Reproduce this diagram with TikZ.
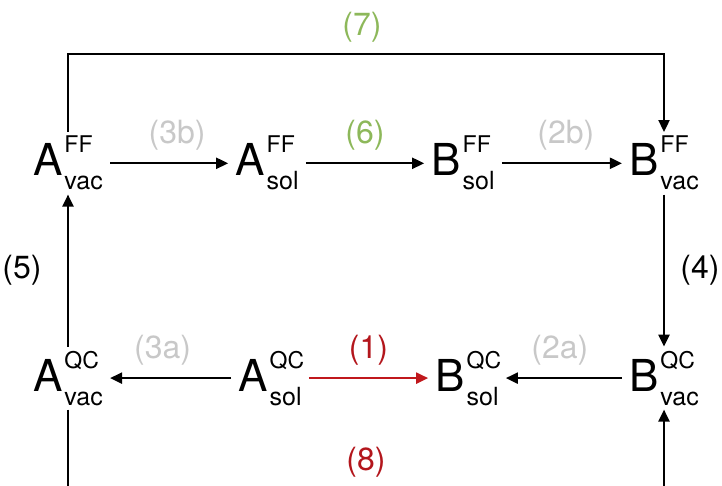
\documentclass[tikz,border=0pt]{standalone}
\usepackage{fontspec}
\setmainfont{TeX Gyre Heros}
\usetikzlibrary{arrows.meta}
\definecolor{lgray}{HTML}{C8C8C8}
\definecolor{lgreen}{HTML}{8DB85A}
\definecolor{dred}{HTML}{B3161C}
\definecolor{ared}{HTML}{C0181C}
\newcommand\stt[3]{{\fontsize{44}{44}\selectfont #1}\kern2pt\makebox[0pt][l]{\raisebox{23pt}{\fontsize{23}{23}\selectfont #2}}\raisebox{-14pt}{\fontsize{25}{25}\selectfont #3}}
\tikzset{
  state/.style={inner xsep=7pt, inner ysep=4pt, anchor=base},
  arr/.style={line width=2.2pt, -{Triangle[length=12pt,width=11pt]}},
  lbl/.style={font=\fontsize{32}{32}\selectfont, inner sep=0pt}
}
\begin{document}
\begin{tikzpicture}[x=1pt,y=-1pt]
\useasboundingbox (0,0) rectangle (722,486);
\node[state] (avff) at (68,176) {\stt{A}{FF}{vac}};
\node[state] (asff) at (267,176) {\stt{A}{FF}{sol}};
\node[state] (bsff) at (463,176) {\stt{B}{FF}{sol}};
\node[state] (bvff) at (664,176) {\stt{B}{FF}{vac}};
\node[state] (avqc) at (68,391) {\stt{A}{QC}{vac}};
\node[state] (asqc) at (270,391) {\stt{A}{QC}{sol}};
\node[state] (bsqc) at (467,391) {\stt{B}{QC}{sol}};
\node[state] (bvqc) at (664,391) {\stt{B}{QC}{vac}};
\coordinate (top) at (0,54);
\coordinate (bot) at (0,490);
% FF row
\draw[arr] (avff) -- node[lbl,text=lgray,yshift=28pt,xshift=8pt]{(3b)} (asff);
\draw[arr] (asff) -- node[lbl,text=lgreen,yshift=28pt]{(6)} (bsff);
\draw[arr] (bsff) -- node[lbl,text=lgray,yshift=28pt,xshift=4pt]{(2b)} (bvff);
% QC row
\draw[arr] (asqc) -- node[lbl,text=lgray,yshift=28pt,xshift=-8pt]{(3a)} (avqc);
\draw[arr,ared] (asqc) -- node[lbl,text=dred,yshift=28pt]{(1)} (bsqc);
\draw[arr] (bvqc) -- node[lbl,text=lgray,yshift=28pt,xshift=-4pt]{(2a)} (bsqc);
% verticals
\draw[arr] (avqc.north) -- node[lbl,xshift=-46pt]{(5)} (avqc.north |- avff.south);
\draw[arr] (bvff.south) -- node[lbl,xshift=36pt]{(4)} (bvff.south |- bvqc.north);
% top and bottom
\draw[arr] (avff.north) -- (avff.north |- top) -- node[lbl,text=lgreen,yshift=27pt,xshift=-4pt]{(7)} (bvff.north |- top) -- (bvff.north);
\draw[arr] (avqc.south) -- (avqc.south |- bot) -- node[lbl,text=dred,yshift=28pt]{(8)} (bvqc.south |- bot) -- (bvqc.south);
\end{tikzpicture}
\end{document}
